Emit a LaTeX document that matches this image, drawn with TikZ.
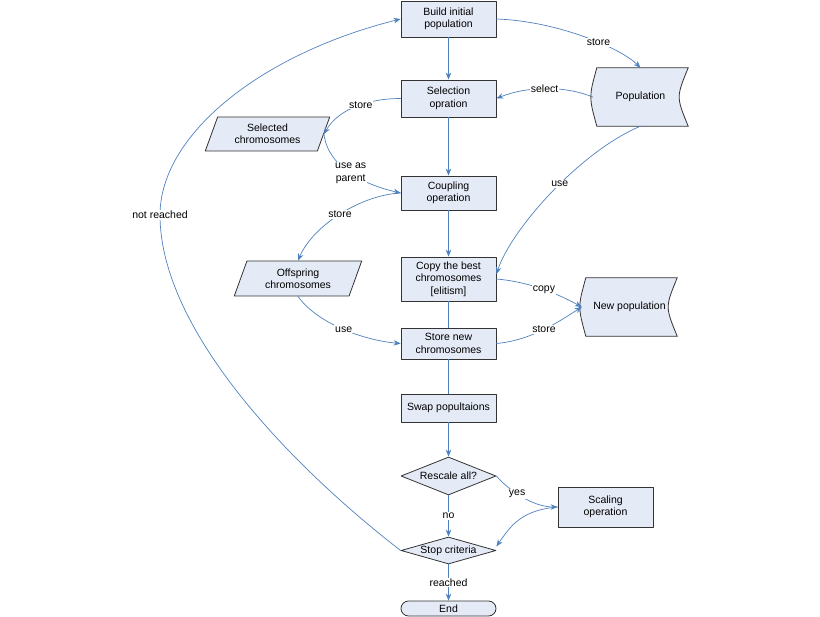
\documentclass[tikz,border=0pt]{standalone}
\usepackage{fontspec}
\setmainfont{Liberation Sans}
\usetikzlibrary{shapes.geometric, shapes.misc, arrows.meta, backgrounds}

\definecolor{boxfill}{HTML}{E4EAF6}
\definecolor{boxline}{HTML}{333333}
\definecolor{linkblue}{HTML}{4F81BD}

\tikzset{
    box/.style={draw=boxline, fill=boxfill, line width=0.8pt,
        minimum width=95pt, inner sep=0pt, align=center},
    para/.style={box, trapezium, trapezium left angle=68,
        trapezium right angle=112, trapezium stretches=true},
    decision/.style={box, diamond, aspect=2.5},
    term/.style={box, rounded rectangle, minimum height=15pt},
    datastore/.style={minimum width=95pt, minimum height=58pt, inner sep=0pt},
    conn/.style={draw=linkblue, line width=0.7pt},
    lbl/.style={fill=white, inner sep=1pt, align=center}
}

\begin{document}
\begin{tikzpicture}[
    x=1pt, y=-1pt,
    >={Stealth[length=7pt,width=5.5pt]},
    line cap=round,
    line join=round,
    font=\fontsize{10.5}{12.5}\selectfont
]

\useasboundingbox (0,0) rectangle (820,617);

%------------------------------------------------
% Main column
%------------------------------------------------
\node[box, minimum height=36pt] (build) at (448.5,19) {Build initial\\population};
\node[box, minimum height=37pt] (select) at (448.5,98.5) {Selection\\opration};
\node[box, minimum height=34pt] (couple) at (448.5,193) {Coupling\\operation};
\node[box, minimum height=44pt] (elite) at (448.5,279) {Copy the best\\chromosomes\\{[elitism]}};
\node[box, minimum height=31pt] (storenew) at (448.5,343.5) {Store new\\chromosomes};
\node[box, minimum height=28pt] (swap) at (448.5,408) {Swap popultaions};
\node[decision, minimum height=38pt] (rescale) at (448.5,476) {Rescale all?};
\node[decision, aspect=3.5, minimum height=27pt] (stop) at (448.5,550.5) {Stop criteria};
\node[term] (finish) at (448.5,608.5) {End};

%------------------------------------------------
% Side nodes
%------------------------------------------------
\node[datastore] (pop) at (640.5,97) {Population};
\node[datastore] (newpop) at (629.5,307) {New population};
\node[para, minimum width=125pt, minimum height=34pt] (selchr) at (267.5,134) {Selected\\chromosomes};
\node[para, minimum width=128pt, minimum height=35pt] (offchr) at (298,278.5) {Offspring\\chromosomes};
\node[box, minimum height=40pt] (scaling) at (605.5,507) {Scaling\\operation};

%------------------------------------------------
% Stored data outlines
%------------------------------------------------
\begin{scope}[on background layer]
\foreach \s in {pop, newpop}
    \filldraw[draw=boxline, fill=boxfill, line width=0.8pt]
        ([xshift=4pt]\s.north west) -- (\s.north east)
        .. controls ([xshift=-12pt]\s.east) .. (\s.south east)
        -- ([xshift=4pt]\s.south west)
        .. controls ([xshift=-4pt]\s.west) .. cycle;
\end{scope}

%------------------------------------------------
% Straight links
%------------------------------------------------
\draw[conn, ->] (build) -- (select);
\draw[conn, ->] (select) -- (couple);
\draw[conn, ->] (couple) -- (elite);
\draw[conn] (elite) -- (storenew);
\draw[conn] (storenew) -- (swap);
\draw[conn, ->] (swap) -- (rescale);
\draw[conn, ->] (rescale) -- node[lbl] {no} (stop);
\draw[conn, ->] (stop) -- node[lbl] {reached} (finish);

%------------------------------------------------
% Curved links
%------------------------------------------------
\draw[conn, ->] (build.east) .. controls +(60,2) and +(-20,-20) .. (pop.north)
    node[lbl, pos=0.6] {store};
\draw[conn, ->] (pop.west) .. controls +(-30,-12) and +(30,-12) .. (select.east)
    node[lbl, pos=0.5] {select};
\draw[conn, ->] (select.west) .. controls +(-30,0) and +(15,-26) .. (selchr.east)
    node[lbl, pos=0.45] {store};
\draw[conn, ->] (selchr.east) .. controls +(4,34) and +(-35,-8) .. (couple.west)
    node[lbl, pos=0.5] {use as\\parent};
\draw[conn, ->] (couple.west) .. controls +(-40,2) and +(15,-35) .. (offchr.north)
    node[lbl, pos=0.5] {store};
\draw[conn, ->] (pop.south) .. controls +(-60,25) and +(15,-45) .. ([yshift=5pt]elite.east)
    node[lbl, pos=0.45] {use};
\draw[conn, ->] (elite.east) .. controls +(35,3) and +(-22,-12) .. (newpop.west)
    node[lbl, pos=0.5] {copy};
\draw[conn, ->] (offchr.south) .. controls +(20,28) and +(-35,-3) .. (storenew.west)
    node[lbl, pos=0.5] {use};
\draw[conn, ->] (storenew.east) .. controls +(35,-3) and +(-22,14) .. (newpop.west)
    node[lbl, pos=0.5] {store};
\draw[conn, ->] (rescale.east) .. controls +(12,14) and +(-25,0) .. (scaling.west)
    node[lbl, pos=0.42] {yes};
\draw[conn, ->] (scaling.west) .. controls +(-35,3) and +(15,-22) .. ([yshift=4pt]stop.east);

% loop back
\draw[conn, ->] (stop.west) .. controls +(-110,-85) and +(0,115) .. (160,215)
    node[lbl] {not reached}
    .. controls +(0,-80) and +(-140,35) .. (build.west);

\end{tikzpicture}
\end{document}
